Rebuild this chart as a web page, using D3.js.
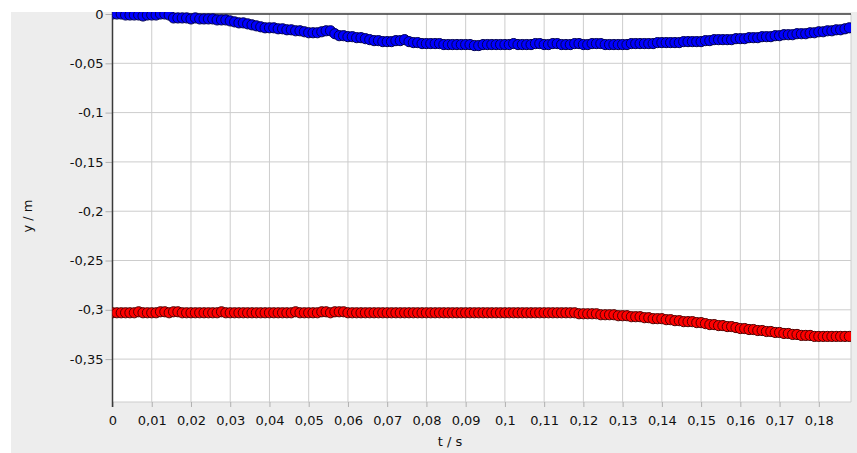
<!DOCTYPE html>
<html><head><meta charset="utf-8">
<script src="https://cdn.jsdelivr.net/npm/d3@7"></script>
<style>
html,body{margin:0;padding:0;background:#fff;}
svg{display:block;}
text{font-family:"DejaVu Sans",Verdana,sans-serif;font-size:13px;fill:#111;}
</style></head><body>
<div id="chart"></div>
<script>
// ---- data ----
const sampleInterval = 1 / 900; // s between samples
const yBlue = [
 0.000, 0.000, 0.000,-0.001,-0.001,-0.001,-0.001,-0.002,-0.001,-0.001,
 -0.001, 0.000, 0.000,-0.001,-0.004,-0.004,-0.004,-0.004,-0.005,-0.004,
 -0.005,-0.005,-0.005,-0.005,-0.006,-0.006,-0.006,-0.007,-0.008,-0.009,
 -0.009,-0.010,-0.011,-0.012,-0.013,-0.014,-0.014,-0.014,-0.015,-0.015,
 -0.016,-0.016,-0.017,-0.017,-0.018,-0.019,-0.019,-0.019,-0.018,-0.017,
 -0.017,-0.020,-0.022,-0.022,-0.023,-0.023,-0.024,-0.024,-0.025,-0.026,
 -0.027,-0.027,-0.028,-0.028,-0.028,-0.027,-0.027,-0.026,-0.028,-0.029,
 -0.029,-0.030,-0.030,-0.030,-0.030,-0.030,-0.031,-0.031,-0.031,-0.031,
 -0.031,-0.031,-0.031,-0.032,-0.032,-0.031,-0.031,-0.031,-0.031,-0.031,
 -0.031,-0.031,-0.030,-0.031,-0.031,-0.031,-0.031,-0.030,-0.030,-0.031,
 -0.031,-0.030,-0.030,-0.031,-0.031,-0.031,-0.030,-0.030,-0.031,-0.031,
 -0.030,-0.030,-0.030,-0.031,-0.031,-0.031,-0.031,-0.031,-0.031,-0.030,
 -0.030,-0.030,-0.030,-0.030,-0.030,-0.029,-0.029,-0.029,-0.029,-0.029,
 -0.029,-0.028,-0.028,-0.028,-0.028,-0.028,-0.027,-0.027,-0.026,-0.026,
 -0.026,-0.026,-0.026,-0.025,-0.025,-0.025,-0.024,-0.024,-0.024,-0.023,
 -0.023,-0.023,-0.022,-0.022,-0.021,-0.021,-0.021,-0.020,-0.020,-0.020,
 -0.019,-0.019,-0.018,-0.018,-0.017,-0.017,-0.016,-0.016,-0.015,-0.014
];
const yRed = [
 -0.303,-0.303,-0.303,-0.303,-0.303,-0.303,-0.302,-0.303,-0.303,-0.303,
 -0.303,-0.302,-0.302,-0.303,-0.302,-0.302,-0.303,-0.303,-0.303,-0.303,
 -0.303,-0.303,-0.303,-0.303,-0.303,-0.302,-0.303,-0.303,-0.303,-0.303,
 -0.303,-0.303,-0.303,-0.303,-0.303,-0.303,-0.303,-0.303,-0.303,-0.303,
 -0.303,-0.303,-0.302,-0.303,-0.303,-0.303,-0.303,-0.303,-0.302,-0.302,
 -0.303,-0.302,-0.302,-0.302,-0.303,-0.303,-0.303,-0.303,-0.303,-0.303,
 -0.303,-0.303,-0.303,-0.303,-0.303,-0.303,-0.303,-0.303,-0.303,-0.303,
 -0.303,-0.303,-0.303,-0.303,-0.303,-0.303,-0.303,-0.303,-0.303,-0.303,
 -0.303,-0.303,-0.303,-0.303,-0.303,-0.303,-0.303,-0.303,-0.303,-0.303,
 -0.303,-0.303,-0.303,-0.303,-0.303,-0.303,-0.303,-0.303,-0.303,-0.303,
 -0.303,-0.303,-0.303,-0.303,-0.303,-0.303,-0.303,-0.304,-0.304,-0.304,
 -0.304,-0.304,-0.305,-0.305,-0.305,-0.305,-0.306,-0.306,-0.306,-0.307,
 -0.307,-0.307,-0.308,-0.308,-0.309,-0.309,-0.309,-0.310,-0.310,-0.311,
 -0.311,-0.312,-0.312,-0.312,-0.313,-0.313,-0.314,-0.315,-0.315,-0.316,
 -0.316,-0.317,-0.317,-0.318,-0.319,-0.319,-0.320,-0.320,-0.321,-0.321,
 -0.322,-0.322,-0.323,-0.323,-0.324,-0.324,-0.325,-0.325,-0.326,-0.326,
 -0.326,-0.327,-0.327,-0.327,-0.327,-0.327,-0.327,-0.327,-0.327,-0.327
];
const xTicks = [0,0.01,0.02,0.03,0.04,0.05,0.06,0.07,0.08,0.09,0.1,0.11,0.12,0.13,0.14,0.15,0.16,0.17,0.18];
const yTicks = [0,-0.05,-0.1,-0.15,-0.2,-0.25,-0.3,-0.35];
const xTitle = "t / s";
const yTitle = "y / m";
const xDomain = [0, 0.1882];
const yDomain = [-0.3935, 0];

// ---- drawing ----
const W = 857, H = 453;
const L = 112.5, R = 851, T = 14, B = 402;
const svg = d3.select("#chart").append("svg").attr("width", W).attr("height", H);

svg.append("rect").attr("x", 11).attr("y", 12).attr("width", W - 11).attr("height", H - 12).attr("fill", "#ededed");
svg.append("rect").attr("x", L).attr("y", T).attr("width", R - L).attr("height", B - T).attr("fill", "#ffffff");

const x = d3.scaleLinear().domain(xDomain).range([L, R]);
const y = d3.scaleLinear().domain(yDomain).range([B, T]);
const fmt = v => (+(+v).toFixed(2)).toString().replace(".", ",");

// grid
const grid = svg.append("g").attr("stroke", "#cdcdcd").attr("stroke-width", 1);
grid.selectAll(".vx").data(xTicks.slice(1)).join("line")
  .attr("x1", d => x(d)).attr("x2", d => x(d)).attr("y1", T).attr("y2", B);
grid.selectAll(".hy").data(yTicks.slice(1)).join("line")
  .attr("x1", L).attr("x2", R).attr("y1", d => y(d)).attr("y2", d => y(d));
// frame right/bottom
grid.append("line").attr("x1", L).attr("x2", R).attr("y1", B).attr("y2", B);
grid.append("line").attr("x1", R).attr("x2", R).attr("y1", T).attr("y2", B);

// axes
const xAxis = svg.append("g").attr("transform", `translate(0,${B})`)
  .call(d3.axisBottom(x).tickValues(xTicks).tickFormat(fmt).tickSize(5).tickPadding(9));
const yAxis = svg.append("g").attr("transform", `translate(${L},0)`)
  .call(d3.axisLeft(y).tickValues(yTicks).tickFormat(fmt).tickSize(7).tickPadding(2));
[xAxis, yAxis].forEach(a => {
  a.select(".domain").remove();
  a.selectAll(".tick line").attr("stroke", "#b0b0b0");
  a.selectAll("text").attr("fill", "#111").style("font-size", "13px").style("font-family", "'DejaVu Sans', Verdana, sans-serif");
});

// dark axis lines (left and at y = 0)
svg.append("line").attr("x1", L).attr("x2", L).attr("y1", 12).attr("y2", B + 5)
  .attr("stroke", "#3a3a3a").attr("stroke-width", 1.5);
svg.append("line").attr("x1", L).attr("x2", R).attr("y1", y(0)).attr("y2", y(0))
  .attr("stroke", "#3a3a3a").attr("stroke-width", 1.5);

// titles
svg.append("text").attr("x", 450).attr("y", 446).attr("text-anchor", "middle").text(xTitle);
svg.append("text").attr("transform", "translate(32,216) rotate(-90)").attr("text-anchor", "middle").text(yTitle);

// points
svg.append("clipPath").attr("id", "clip").append("rect")
  .attr("x", L).attr("y", 12).attr("width", R - L).attr("height", B - 12);
const pts = svg.append("g").attr("clip-path", "url(#clip)");
const series = [
  {vals: yBlue, fill: "#0000ff", stroke: "#000050"},
  {vals: yRed, fill: "#ff0000", stroke: "#500000"}
];
series.forEach(s => {
  pts.append("g").selectAll("circle").data(s.vals).join("circle")
    .attr("cx", (d, i) => x(i * sampleInterval))
    .attr("cy", d => y(d))
    .attr("r", 5.1)
    .attr("fill", s.fill)
    .attr("stroke", s.stroke)
    .attr("stroke-width", 1);
});
</script>
</body></html>
